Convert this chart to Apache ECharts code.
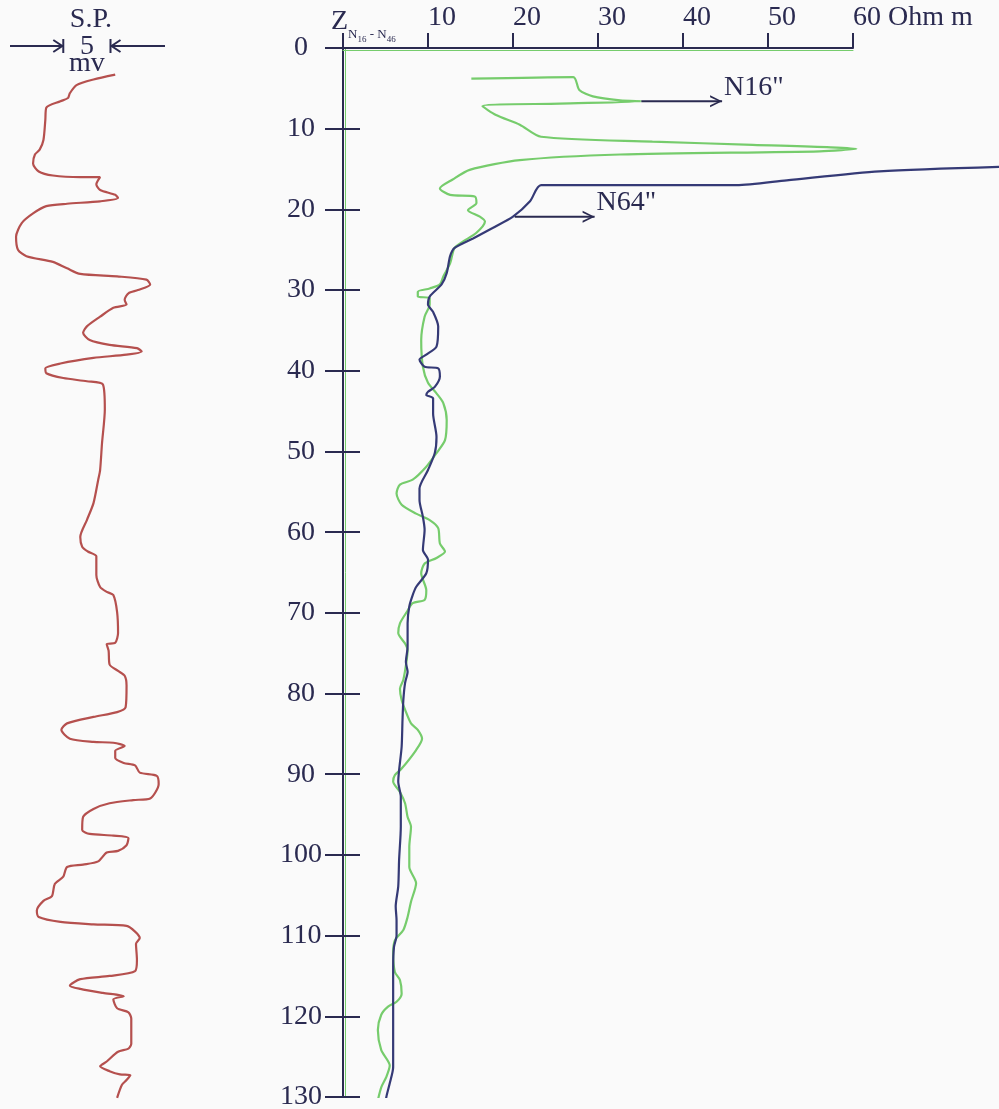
<!DOCTYPE html>
<html>
<head>
<meta charset="utf-8">
<script src="https://cdn.jsdelivr.net/npm/echarts@6/dist/echarts.min.js"></script>
<style>
  html, body { margin: 0; padding: 0; background: #fafafa; }
  #chart { width: 999px; height: 1109px; }
</style>
</head>
<body>
<div id="chart"></div>
<script>
// Resistivity tick labels along the top scale (Ohm m)
const resTickLabels = ['', '10', '20', '30', '40', '50', '60 Ohm m'];

// Short normal N16" log: [apparent resistivity (Ohm m), depth (m)]
const n16Curve = [
  [15.1,3.8],[27.1,3.6],[27.8,5.2],[29.4,6.0],[32.6,6.5],[35.1,6.6],[25.5,6.9],[16.4,7.2],
  [18.0,8.3],[20.8,9.5],[23.3,11.0],[36.4,11.6],[48.2,12.0],[60.4,12.5],[56.1,12.8],[32.6,13.2],
  [20.8,13.9],[14.9,15.1],[12.9,16.3],[11.4,17.4],[12.6,18.2],[15.5,18.4],[15.7,19.2],[14.7,20.1],
  [16.1,20.9],[16.7,21.5],[15.7,22.9],[14.1,24.0],[13.1,24.8],[12.6,26.7],[11.8,28.3],[11.4,29.3],
  [10.2,29.8],[8.8,30.2],[8.8,30.8],[10.2,31.0],[10.2,31.8],[9.6,33.3],[9.2,36.2],[9.4,39.5],
  [10.0,41.5],[11.0,42.8],[11.8,44.0],[12.2,46.1],[12.0,48.6],[11.0,50.2],[9.8,51.9],[8.2,53.5],
  [6.7,54.1],[6.3,55.2],[6.9,56.6],[8.6,57.7],[10.2,58.5],[11.2,59.5],[11.4,61.4],[12.0,62.4],
  [11.0,63.2],[9.6,63.9],[9.2,65.1],[9.8,67.2],[9.6,68.4],[8.2,68.8],[7.5,69.9],[6.7,71.3],
  [6.5,72.5],[7.3,73.8],[7.6,74.6],[7.5,75.8],[7.1,78.3],[6.7,79.4],[6.9,80.8],[7.3,82.0],
  [8.0,83.7],[8.8,84.5],[9.3,85.6],[8.6,87.0],[6.9,89.3],[6.1,90.1],[5.9,90.9],[6.7,92.2],
  [7.3,93.6],[7.6,95.3],[8.0,96.5],[7.8,99.0],[7.8,101.5],[8.6,103.5],[8.0,105.8],[7.6,107.7],
  [7.1,109.3],[6.1,110.6],[5.9,112.2],[6.1,114.5],[6.7,115.5],[6.9,117.2],[6.3,118.2],[5.3,118.8],
  [4.5,119.8],[4.1,121.7],[4.5,124.2],[5.5,126.1],[5.1,127.5],[4.5,128.8],[4.1,130.4]
];

// Long normal N64" log: [apparent resistivity (Ohm m), depth (m)]
const n64Curve = [
  [78.5,14.7],[63.1,15.3],[52.2,16.4],[46.3,17.0],[23.3,17.0],[22.0,19.0],[20.0,20.9],[17.6,22.3],
  [15.3,23.6],[13.1,24.8],[12.6,25.8],[12.2,27.9],[11.6,29.3],[10.2,30.8],[10.0,31.8],[10.6,32.7],
  [11.2,34.5],[11.0,37.0],[9.8,38.0],[9.0,38.6],[9.6,39.5],[11.2,39.7],[11.4,40.7],[10.8,42.0],
  [10.0,42.6],[9.8,43.0],[10.6,43.4],[10.6,45.3],[11.0,48.2],[10.8,50.2],[10.0,52.3],[9.0,54.6],
  [9.0,56.0],[9.4,58.1],[9.6,59.7],[9.4,62.2],[10.0,63.4],[9.8,65.1],[8.6,66.8],[8.2,67.8],
  [7.8,69.2],[7.6,71.3],[7.6,74.2],[7.4,76.1],[7.6,77.3],[7.3,78.7],[7.1,80.8],[7.0,83.3],
  [6.9,86.6],[6.6,89.5],[6.5,90.9],[6.8,92.8],[6.8,96.5],[6.6,100.6],[6.5,103.9],[6.2,106.4],
  [6.3,108.1],[6.3,110.0],[6.0,111.4],[5.9,113.9],[5.9,118.8],[5.9,123.0],[5.9,126.3],[5.5,128.3],
  [5.1,130.0],[5.0,131.0]
];

// Spontaneous potential log: [relative SP (mV), depth (m)]
const spCurve = [
  [12.2,3.3],[9.9,3.9],[8.1,4.6],[7.4,5.6],[7.2,6.2],[6.4,6.6],[4.9,7.4],[4.8,8.9],[4.6,11.4],
  [4.2,12.6],[3.7,13.2],[3.5,14.3],[4.1,15.3],[5.6,15.8],[8.5,16.0],[10.6,16.0],[10.2,16.9],
  [10.6,17.6],[12.2,18.2],[12.5,18.6],[10.6,19.0],[7.1,19.3],[4.9,19.6],[3.5,20.5],[2.3,21.7],
  [1.7,23.4],[1.9,25.0],[2.8,25.8],[5.6,26.5],[7.1,27.3],[8.5,28.0],[12.4,28.3],[15.5,28.7],
  [15.9,29.3],[14.6,30.0],[13.6,30.4],[13.2,31.2],[13.4,31.8],[12.0,32.2],[10.6,33.3],[9.2,34.5],
  [8.8,35.3],[9.5,36.2],[11.6,36.8],[14.5,37.2],[15.0,37.6],[13.4,38.0],[9.9,38.4],[6.4,39.1],
  [4.8,39.7],[4.9,40.3],[6.7,40.9],[9.2,41.3],[10.9,41.7],[11.1,44.8],[10.8,49.0],[10.6,52.3],
  [10.4,53.5],[9.9,56.4],[9.2,58.5],[8.5,60.6],[8.7,61.8],[9.3,62.4],[10.2,63.0],[10.2,65.3],
  [10.6,66.8],[11.3,67.4],[12.0,67.8],[12.4,69.9],[12.5,72.5],[12.2,73.7],[11.3,73.9],[11.5,74.7],
  [11.6,76.4],[12.5,77.2],[13.2,77.8],[13.4,79.0],[13.3,81.7],[12.4,82.3],[9.9,82.9],[7.1,83.7],
  [6.5,84.5],[7.4,85.6],[9.9,86.0],[12.0,86.1],[13.2,86.5],[12.2,87.1],[12.2,88.0],[13.1,88.6],
  [14.3,88.9],[14.8,89.8],[16.6,90.2],[16.8,91.2],[15.9,93.0],[14.1,93.2],[11.6,93.6],[9.9,94.3],
  [8.8,95.3],[8.7,96.9],[9.5,97.4],[12.0,97.6],[13.6,97.9],[13.4,98.8],[12.5,99.5],[11.3,99.7],
  [10.4,100.8],[8.8,101.2],[7.1,101.5],[6.7,102.7],[5.8,103.6],[5.5,105.1],[4.6,105.7],[3.9,106.9],
  [4.1,107.7],[6.4,108.3],[9.9,108.6],[13.4,108.8],[14.3,109.5],[14.8,110.3],[14.4,111.0],
  [14.5,113.0],[14.3,114.4],[11.6,115.0],[8.5,115.4],[7.4,116.2],[8.5,116.6],[10.9,117.1],
  [13.1,117.5],[12.0,117.9],[12.4,119.0],[13.6,119.5],[13.9,120.3],[13.9,123.4],[13.6,124.0],
  [12.5,124.4],[11.3,125.6],[10.6,126.2],[11.6,126.8],[12.7,127.2],[13.8,127.3],[13.4,127.9],
  [12.9,128.5],[12.4,130.1]
];

// Curve name arrows: [start, tip] in [Ohm m, depth]
const n16Arrow = [[35.1, 6.6], [44.6, 6.6]];
const n64Arrow = [[20.2, 20.9], [29.6, 20.9]];

// SP scale bar: left edge (mV) and span (mV)
const spScale = { from: 6.7, span: 5 };

const INK = '#2a2a50';
const GREEN = '#76cc6c';
const BLUE = '#353a76';
const RED = '#b5504e';
const SERIF = '"Liberation Serif", "Times New Roman", serif';
const FS = 28;

const chart = echarts.init(document.getElementById('chart'), null, { renderer: 'canvas' });

// open arrow head, tip on the right
const arrowHead = 'path://M0,0 L12,6 L0,12 L0,10 L8.6,6 L0,2 Z';

// Curves are drawn on a wider, hidden twin of the resistivity scale
// (same Ohm m per pixel) so the high-resistivity run can leave the track.
const CURVE_X = 3, CURVE_Y = 4;

function arrowSeries(points, name) {
  return {
    type: 'line',
    xAxisIndex: CURVE_X, yAxisIndex: CURVE_Y,
    silent: true,
    z: 5,
    lineStyle: { color: INK, width: 2 },
    itemStyle: { color: INK },
    showSymbol: true,
    data: [
      { value: points[0], symbol: 'none' },
      { value: points[1], symbol: arrowHead, symbolSize: [12, 12], symbolOffset: [-6, 0] }
    ],
    endLabel: {
      show: true,
      formatter: name,
      color: INK,
      fontFamily: SERIF,
      fontSize: FS,
      offset: [-6, -14]
    }
  };
}

const depthAxisBase = {
  type: 'value',
  min: 0, max: 130, interval: 10,
  inverse: true,
  splitLine: { show: false }
};

const TRACK = { left: 343, top: 48, width: 510, height: 1049, outerBoundsMode: 'none' };
const PX_PER_OHM = TRACK.width / 60;

chart.setOption({
  animation: false,
  backgroundColor: '#fafafa',
  grid: [
    TRACK,
    { left: 0, top: 48, width: 170, height: 1049, outerBoundsMode: 'none' },
    { left: TRACK.left, top: TRACK.top, width: PX_PER_OHM * 80, height: TRACK.height, outerBoundsMode: 'none' }
  ],
  xAxis: [
    {
      gridIndex: 0, type: 'value', position: 'top',
      min: 0, max: 60, interval: 10,
      axisLine: { lineStyle: { color: INK, width: 2 } },
      axisTick: { length: 15, lineStyle: { color: INK, width: 2 } },
      splitLine: { show: false },
      axisLabel: {
        formatter: v => resTickLabels[Math.round(v / 10)],
        color: INK, fontFamily: SERIF, fontSize: FS,
        align: 'left', verticalAlign: 'middle', margin: 30
      }
    },
    { gridIndex: 1, type: 'value', min: 0, max: 18, show: false },
    {
      // thin green rule just under the top scale line
      gridIndex: 0, type: 'value', position: 'top', offset: -2,
      min: 0, max: 60,
      axisLine: { lineStyle: { color: GREEN, width: 1 } },
      axisTick: { show: false }, axisLabel: { show: false }, splitLine: { show: false }
    },
    { gridIndex: 2, type: 'value', min: 0, max: 80, show: false }
  ],
  yAxis: [
    Object.assign({}, depthAxisBase, {
      gridIndex: 0, position: 'left', offset: 88,
      axisLine: { lineStyle: { color: INK, width: 2 } },
      axisTick: { inside: true, length: 17, lineStyle: { color: INK, width: 2 } },
      axisLabel: {
        inside: true, margin: 46, align: 'center',
        color: INK, fontFamily: SERIF, fontSize: FS
      }
    }),
    Object.assign({}, depthAxisBase, {
      gridIndex: 0, position: 'left', offset: 0,
      axisLine: { lineStyle: { color: INK, width: 2 } },
      axisTick: { length: 18, lineStyle: { color: INK, width: 2 } },
      axisLabel: { show: false }
    }),
    Object.assign({}, depthAxisBase, { gridIndex: 1, show: false }),
    Object.assign({}, depthAxisBase, {
      // thin green rule along the resistivity zero line
      gridIndex: 0, position: 'left', offset: -2,
      axisLine: { lineStyle: { color: GREEN, width: 1 } },
      axisTick: { show: false }, axisLabel: { show: false }
    }),
    Object.assign({}, depthAxisBase, { gridIndex: 2, show: false })
  ],
  series: [
    {
      name: 'N16"', type: 'line', xAxisIndex: CURVE_X, yAxisIndex: CURVE_Y,
      data: n16Curve, showSymbol: false, smooth: 0.25,
      lineStyle: { color: GREEN, width: 2.2 }, z: 3
    },
    {
      name: 'N64"', type: 'line', xAxisIndex: CURVE_X, yAxisIndex: CURVE_Y,
      data: n64Curve, showSymbol: false, smooth: 0.25,
      lineStyle: { color: BLUE, width: 2.2 }, z: 4
    },
    {
      name: 'S.P.', type: 'line', xAxisIndex: 1, yAxisIndex: 2,
      data: spCurve, showSymbol: false, smooth: 0.25, clip: false,
      lineStyle: { color: RED, width: 2.2 }
    },
    arrowSeries(n16Arrow, 'N16"'),
    arrowSeries(n64Arrow, 'N64"')
  ]
});

// Header texts and the SP scale bar, placed from the SP axis
const xa = chart.convertToPixel({ xAxisIndex: 1 }, spScale.from);
const xb = chart.convertToPixel({ xAxisIndex: 1 }, spScale.from + spScale.span);
const barY = 46;
const stroke = { stroke: INK, lineWidth: 2, fill: null };
const mid = (xa + xb) / 2;
const headFont = FS + 'px ' + SERIF;

chart.setOption({
  graphic: [
    { type: 'text', style: { x: mid + 4, y: 20, text: 'S.P.', font: headFont, fill: INK, align: 'center', verticalAlign: 'middle' } },
    { type: 'text', style: { x: mid, y: 47, text: '5', font: headFont, fill: INK, align: 'center', verticalAlign: 'middle' } },
    { type: 'text', style: { x: mid, y: 64, text: 'mv', font: headFont, fill: INK, align: 'center', verticalAlign: 'middle' } },
    { type: 'line', shape: { x1: 10, y1: barY, x2: xa, y2: barY }, style: stroke },
    { type: 'polyline', shape: { points: [[xa - 10, barY - 6], [xa - 1, barY], [xa - 10, barY + 6]] }, style: stroke },
    { type: 'line', shape: { x1: xa, y1: barY - 7, x2: xa, y2: barY + 7 }, style: stroke },
    { type: 'line', shape: { x1: xb, y1: barY, x2: 165, y2: barY }, style: stroke },
    { type: 'polyline', shape: { points: [[xb + 10, barY - 6], [xb + 1, barY], [xb + 10, barY + 6]] }, style: stroke },
    { type: 'line', shape: { x1: xb, y1: barY - 7, x2: xb, y2: barY + 7 }, style: stroke },
    {
      type: 'text',
      style: {
        x: 331, y: 36,
        text: '{z|Z}{n|N}{d|16}{n| - N}{d|46}',
        fill: INK,
        align: 'left', verticalAlign: 'bottom',
        rich: {
          z: { font: headFont, fill: INK, verticalAlign: 'bottom' },
          n: { font: '13px ' + SERIF, fill: INK, verticalAlign: 'bottom', padding: [0, 0, -5, 0] },
          d: { font: '9px ' + SERIF, fill: INK, verticalAlign: 'bottom', padding: [0, 0, -8, 0] }
        }
      }
    }
  ]
});
</script>
</body>
</html>
